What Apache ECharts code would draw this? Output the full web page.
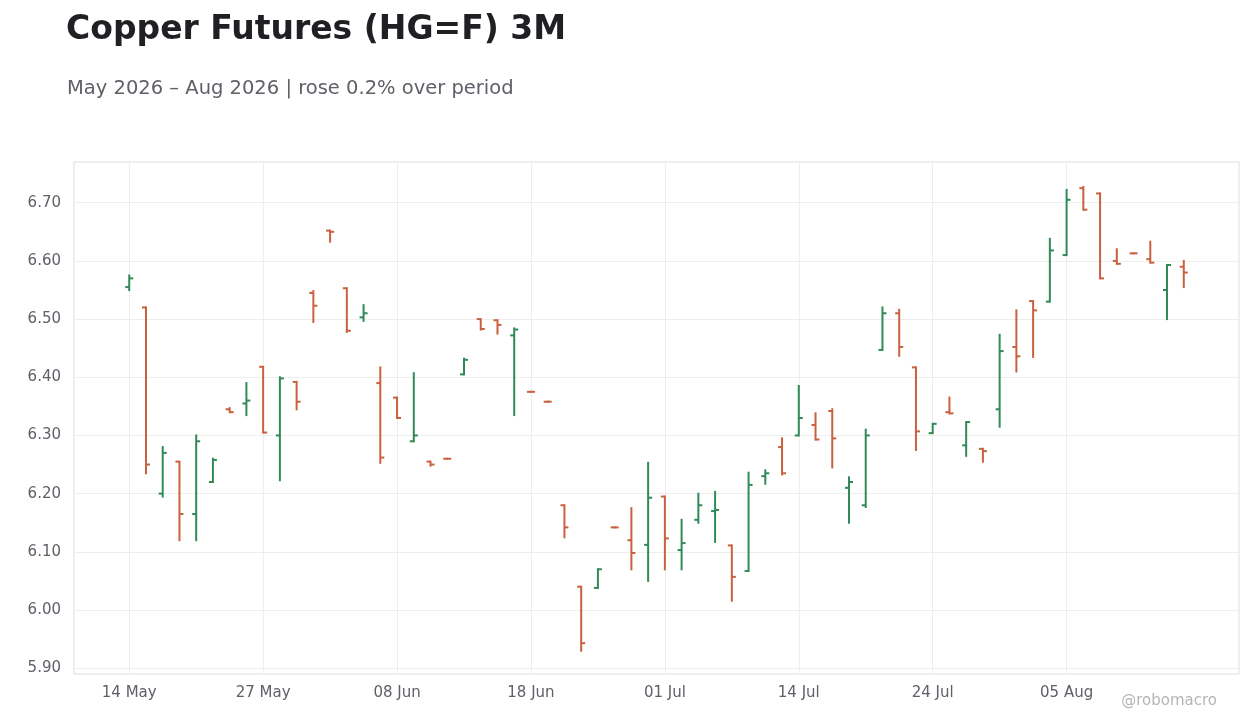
<!DOCTYPE html>
<html><head><meta charset="utf-8">
<script src="https://cdn.jsdelivr.net/npm/echarts@6/dist/echarts.min.js"></script>
<style>html,body{margin:0;padding:0;background:#fff}#c{width:1260px;height:728px}</style>
</head><body><div id="c"></div>
<script>
const dates = ['14 May','15 May','18 May','19 May','20 May','21 May','22 May','26 May','27 May','28 May','29 May','01 Jun','02 Jun','03 Jun','04 Jun','05 Jun','08 Jun','09 Jun','10 Jun','11 Jun','12 Jun','15 Jun','16 Jun','17 Jun','18 Jun','22 Jun','23 Jun','24 Jun','25 Jun','26 Jun','29 Jun','30 Jun','01 Jul','02 Jul','06 Jul','07 Jul','08 Jul','09 Jul','10 Jul','13 Jul','14 Jul','15 Jul','16 Jul','17 Jul','20 Jul','21 Jul','22 Jul','23 Jul','24 Jul','27 Jul','28 Jul','29 Jul','30 Jul','31 Jul','03 Aug','04 Aug','05 Aug','06 Aug','07 Aug','10 Aug','11 Aug','12 Aug','13 Aug','14 Aug'];
const opens  = [6.555,6.52,6.20,6.255,6.165,6.22,6.345,6.355,6.418,6.30,6.392,6.545,6.652,6.553,6.503,6.39,6.365,6.29,6.255,6.26,6.405,6.50,6.498,6.472,6.375,6.358,6.18,6.04,6.038,6.142,6.12,6.112,6.195,6.103,6.155,6.17,6.111,6.067,6.23,6.28,6.30,6.318,6.342,6.21,6.18,6.447,6.51,6.417,6.304,6.34,6.283,6.277,6.345,6.452,6.531,6.53,6.61,6.725,6.716,6.60,6.613,6.603,6.55,6.59];
const highs  = [6.575,6.52,6.28,6.255,6.30,6.26,6.347,6.39,6.418,6.40,6.392,6.548,6.652,6.553,6.524,6.417,6.365,6.407,6.255,6.26,6.432,6.50,6.498,6.484,6.375,6.358,6.18,6.04,6.07,6.142,6.175,6.253,6.195,6.155,6.20,6.203,6.111,6.236,6.24,6.295,6.385,6.338,6.345,6.228,6.31,6.52,6.516,6.417,6.32,6.365,6.323,6.277,6.473,6.515,6.531,6.638,6.722,6.727,6.716,6.62,6.613,6.633,6.593,6.60];
const lows   = [6.55,6.235,6.195,6.12,6.12,6.22,6.34,6.335,6.305,6.223,6.345,6.495,6.633,6.478,6.497,6.253,6.33,6.29,6.248,6.26,6.405,6.482,6.475,6.335,6.375,6.358,6.125,5.93,6.038,6.142,6.07,6.05,6.07,6.07,6.15,6.117,6.016,6.067,6.217,6.233,6.30,6.293,6.245,6.15,6.177,6.447,6.437,6.275,6.304,6.338,6.265,6.255,6.315,6.41,6.435,6.53,6.61,6.688,6.57,6.595,6.613,6.597,6.50,6.555];
const closes = [6.57,6.25,6.27,6.165,6.29,6.258,6.34,6.36,6.305,6.398,6.358,6.523,6.65,6.48,6.51,6.262,6.33,6.30,6.25,6.26,6.43,6.483,6.49,6.482,6.375,6.358,6.142,5.943,6.07,6.142,6.098,6.193,6.123,6.115,6.18,6.172,6.057,6.215,6.235,6.235,6.33,6.293,6.295,6.22,6.30,6.51,6.452,6.307,6.32,6.338,6.323,6.273,6.445,6.436,6.515,6.618,6.705,6.688,6.57,6.595,6.613,6.597,6.593,6.58];
const yTicks = [5.9,6.0,6.1,6.2,6.3,6.4,6.5,6.6,6.7];
const xTicks = [0,8,16,24,32,40,48,56];

const data = dates.map((d,i)=>[i, opens[i], highs[i], lows[i], closes[i]]);
const GREEN='#2e8b57', RED='#c9603f';
const chart = echarts.init(document.getElementById('c'));
chart.setOption({
  animation:false,
  title:[{text:'Copper Futures (HG=F) 3M',left:61,top:9,textStyle:{fontFamily:'DejaVu Sans',fontSize:33,fontWeight:'bold',color:'#1f1f24'}},
         {text:'May 2026 – Aug 2026 | rose 0.2% over period',left:62,top:74,textStyle:{fontFamily:'DejaVu Sans',fontSize:19.5,fontWeight:'normal',color:'#5f6068'}},
         {text:'@robomacro',right:38,bottom:14,textStyle:{fontFamily:'DejaVu Sans',fontSize:15,fontWeight:'normal',color:'#b5b5b5'}}],
  grid:{left:74,right:21,top:162,bottom:54,show:true,borderColor:'#dddddd',borderWidth:1},
  xAxis:{type:'value',min:-3.3,max:dates.length-1+3.3,
    axisLine:{show:false},axisTick:{show:false,customValues:xTicks},
    axisLabel:{customValues:xTicks,formatter:v=>dates[Math.round(v)]||'',color:'#5f6068',fontFamily:'DejaVu Sans',fontSize:15,margin:12},
    splitLine:{show:true,lineStyle:{color:'#eeeeee'}}},
  yAxis:{type:'value',min:5.89,max:6.77,
    axisLine:{show:false},
    axisTick:{show:false,customValues:yTicks},
    axisLabel:{customValues:yTicks,formatter:v=>v.toFixed(2),color:'#5f6068',fontFamily:'DejaVu Sans',fontSize:15,margin:13},
    splitLine:{show:true,lineStyle:{color:'#eeeeee'}}},
  series:[{type:'custom',data:data,encode:{x:0,y:[1,2,3,4]},
    renderItem:(params,api)=>{
      const x=api.value(0),o=api.value(1),h=api.value(2),l=api.value(3),c=api.value(4);
      const pO=api.coord([x,o]),pH=api.coord([x,h]),pL=api.coord([x,l]),pC=api.coord([x,c]);
      const col = c>o?GREEN:RED;
      const st={stroke:col,lineWidth:2};
      const cx=pO[0], w=4;
      return {type:'group',children:[
        {type:'line',shape:{x1:cx,y1:pH[1]-1,x2:cx,y2:pL[1]+1},style:st},
        {type:'line',shape:{x1:cx-w,y1:pO[1],x2:cx,y2:pO[1]},style:st},
        {type:'line',shape:{x1:cx,y1:pC[1],x2:cx+w,y2:pC[1]},style:st}]};
    }}]
});
</script></body></html>
